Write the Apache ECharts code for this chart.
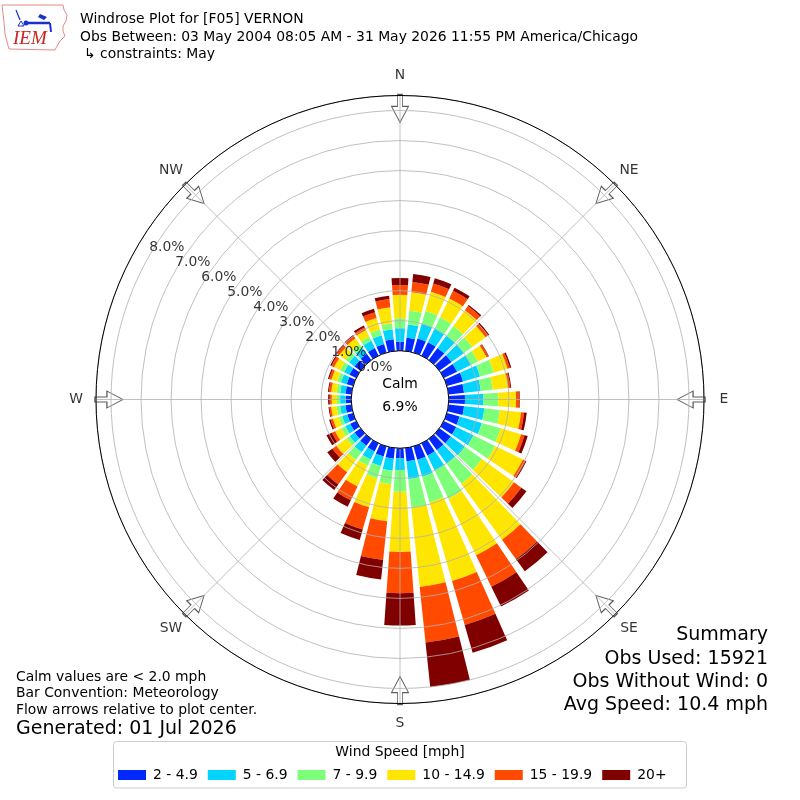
<!DOCTYPE html>
<html><head><meta charset="utf-8">
<script src="https://cdn.jsdelivr.net/npm/echarts@6/dist/echarts.min.js"></script>
<style>html,body{margin:0;padding:0;background:#fff}#c{width:800px;height:800px}</style>
</head><body><div id="c"></div>
<script>
// ---- data ----
const directions = ['0','10','20','30','40','50','60','70','80','90','100','110','120','130','140','150','160','170',
                    '180','190','200','210','220','230','240','250','260','270','280','290','300','310','320','330','340','350'];
const speedBins = ['2 - 4.9','5 - 6.9','7 - 9.9','10 - 14.9','15 - 19.9','20+'];
const speed2to5   = [0.30,0.44,0.49,0.50,0.50,0.50,0.49,0.56,0.52,0.54,0.52,0.44,0.46,0.47,0.46,0.45,0.46,0.44,0.33,0.36,0.35,0.30,0.28,0.25,0.22,0.20,0.20,0.18,0.20,0.22,0.25,0.25,0.26,0.28,0.30,0.39];
const speed5to7   = [0.45,0.45,0.51,0.50,0.50,0.50,0.51,0.59,0.56,0.61,0.68,0.77,0.64,0.58,0.56,0.55,0.59,0.60,0.39,0.40,0.33,0.30,0.27,0.20,0.18,0.18,0.18,0.19,0.18,0.20,0.20,0.22,0.24,0.27,0.30,0.34];
const speed7to10  = [0.33,0.46,0.44,0.42,0.40,0.35,0.26,0.47,0.40,0.50,0.52,0.65,0.80,0.70,0.83,1.05,0.89,0.96,0.73,0.45,0.43,0.23,0.31,0.13,0.15,0.12,0.12,0.11,0.12,0.13,0.15,0.15,0.15,0.15,0.20,0.19];
const speed10to15 = [0.78,0.62,0.67,0.70,0.65,0.55,0.32,0.48,0.52,0.59,0.71,0.71,1.03,1.32,2.30,2.10,2.72,2.65,2.00,1.24,1.00,0.77,0.51,0.41,0.23,0.20,0.18,0.17,0.18,0.20,0.22,0.26,0.25,0.25,0.40,0.54];
const speed15to20 = [0.33,0.34,0.28,0.28,0.17,0.10,0.07,0.08,0.07,0.11,0.10,0.12,0.10,0.30,0.80,1.16,1.53,1.86,1.38,1.30,0.77,0.51,0.50,0.17,0.12,0.08,0.06,0.07,0.08,0.08,0.10,0.09,0.09,0.10,0.20,0.28];
const speed20plus = [0.23,0.27,0.19,0.12,0.05,0.05,0.02,0.05,0.03,0.02,0.09,0.11,0.03,0.21,0.50,0.74,0.96,1.49,1.07,0.65,0.36,0.24,0.23,0.21,0.20,0.05,0.03,0.05,0.03,0.04,0.04,0.04,0.04,0.07,0.12,0.11];
const compassLabels = ['N','NE','E','SE','S','SW','W','NW'];
const compassAngles = [0,45,90,135,180,225,270,315];
const ringTicks = [0,1,2,3,4,5,6,7,8];
const calmPercent = '6.9%';
const summaryLines = ['Summary','Obs Used: 15921','Obs Without Wind: 0','Avg Speed: 10.4 mph'];
const noteLines = ['Calm values are < 2.0 mph','Bar Convention: Meteorology','Flow arrows relative to plot center.'];

// ---- styles ----
const FF = '"DejaVu Sans", sans-serif';
const binColors = ['#0028ff','#00d4ff','#7dff7a','#ffe600','#ff4a00','#800000'];
const binValues = [speed2to5, speed5to7, speed7to10, speed10to15, speed15to20, speed20plus];
const CENTER = [400, 399.5];
const RADIUS = [48.8, 304];
const RMAX = 8.5;

const chart = echarts.init(document.getElementById('c'), null, {renderer: 'canvas'});

const barSeries = speedBins.map((name, i) => ({
  type: 'bar', name: name, coordinateSystem: 'polar', polarIndex: 0,
  stack: 'rose', data: binValues[i], barCategoryGap: '20%',
  itemStyle: {color: binColors[i]}, z: 2, silent: true
}));

const arrowPath = 'path://M6,0 L11,0 L11,12 L17,12 L8.5,28 L0,12 L6,12 Z';

function txt(text, x, y, size, align, extra) {
  return Object.assign({
    type: 'text', z: 20,
    style: {text: text, x: x, y: y, font: size + 'px ' + FF, fill: '#000',
            textAlign: align || 'left', textVerticalAlign: 'middle',
            align: align || 'left', verticalAlign: 'middle'}
  }, extra || {});
}

const BLUE = '#1a2fd0';
const graphics = [
  // logo
  {type: 'polyline', z: 20, shape: {points: [[2,5],[63,5],[64,10],[67,15],[66,21],[63,26],[63,31],[65,36],[60,41],[57,46],[55,50],[9,49],[7,42],[5,34],[4,22],[2,5]]},
   style: {stroke: '#e58a8a', lineWidth: 1, fill: null}},
  {type: 'polyline', z: 20, shape: {points: [[16,10],[20,20]]}, style: {stroke: BLUE, lineWidth: 1.2}},
  {type: 'polygon', z: 20, shape: {points: [[18,26],[21,21],[24,26]]}, style: {stroke: BLUE, lineWidth: 1, fill: null}},
  {type: 'polyline', z: 20, shape: {points: [[24,23],[50,23]]}, style: {stroke: BLUE, lineWidth: 2.5}},
  {type: 'circle', z: 20, shape: {cx: 26, cy: 23, r: 2.5}, style: {fill: BLUE}},
  {type: 'polygon', z: 20, shape: {points: [[40,14],[47,17],[44,20],[38,17]]}, style: {fill: BLUE}},
  {type: 'polyline', z: 20, shape: {points: [[50,23],[51,32]]}, style: {stroke: BLUE, lineWidth: 2}},
  txt('IEM', 13, 38, 17, 'left', {style: {text: 'IEM', x: 13, y: 38.5, font: 'italic 19px "Liberation Serif", serif', fill: '#d02020', textAlign: 'left', textVerticalAlign: 'middle', align: 'left', verticalAlign: 'middle'}}),
  // title
  txt('Windrose Plot for [F05] VERNON', 80, 19, 13.9),
  txt('Obs Between: 03 May 2004 08:05 AM - 31 May 2026 11:55 PM America/Chicago', 80, 37, 13.9),
  txt('\u21b3 constraints: May', 84, 54, 13.9),
  // calm
  txt('Calm', 400, 384.5, 13.9, 'center'),
  txt(calmPercent, 400, 407.5, 13.9, 'center'),
  // notes
  txt(noteLines[0], 16, 677, 13.9),
  txt(noteLines[1], 16, 693.5, 13.9),
  txt(noteLines[2], 16, 710, 13.9),
  txt('Generated: 01 Jul 2026', 16, 729, 19),
  // summary
  txt(summaryLines[0], 768, 635, 19, 'right'),
  txt(summaryLines[1], 768, 659, 19, 'right'),
  txt(summaryLines[2], 768, 682, 19, 'right'),
  txt(summaryLines[3], 768, 705.5, 19, 'right'),
  // legend box
  {type: 'rect', z: 1, shape: {x: 113.5, y: 741.5, width: 573, height: 46.5, r: 3},
   style: {fill: '#fff', stroke: '#cccccc', lineWidth: 1}},
  txt('Wind Speed [mph]', 400, 752.5, 13.9, 'center')
];

const option = {
  animation: false,
  textStyle: {fontFamily: FF},
  polar: [
    {center: CENTER, radius: RADIUS},
    {center: CENTER, radius: RADIUS}
  ],
  angleAxis: [
    {polarIndex: 0, type: 'category', data: directions, startAngle: 95, clockwise: true,
     axisLine: {show: false}, axisTick: {show: false}, axisLabel: {show: false}, splitLine: {show: false}},
    {polarIndex: 1, type: 'value', min: 0, max: 360, interval: 45, startAngle: 90, clockwise: true, z: 11,
     axisLine: {show: true, lineStyle: {color: '#000', width: 1}}, axisTick: {show: false}, axisLabel: {show: false},
     splitLine: {show: true, lineStyle: {color: '#b0b0b0', width: 0.8}}}
  ],
  radiusAxis: [
    {polarIndex: 0, type: 'value', min: 0, max: RMAX,
     axisLine: {show: false}, axisTick: {show: false}, axisLabel: {show: false}, splitLine: {show: false}},
    {polarIndex: 1, type: 'value', min: 0, max: RMAX, interval: 1, z: 10,
     axisLine: {show: false}, axisTick: {show: false}, axisLabel: {show: false},
     splitLine: {show: true, lineStyle: {color: '#b0b0b0', width: 0.8}}}
  ],
  legend: {
    data: speedBins, left: 118, top: 768, itemWidth: 28, itemHeight: 10, itemGap: 10,
    icon: 'rect', selectedMode: false, padding: 0, z: 5,
    textStyle: {fontSize: 13.9, fontFamily: FF, color: '#000', padding: [0, 0, 0, 2]}
  },
  graphic: graphics,
  series: barSeries.concat([
    {type: 'scatter', coordinateSystem: 'polar', polarIndex: 1, silent: true, z: 3, clip: false,
     symbol: arrowPath, symbolSize: [17, 28],
     itemStyle: {color: '#ffffff', borderColor: '#333333', borderWidth: 1},
     data: compassAngles.map(a => ({value: [8.07, a], symbolRotate: -a}))},
    {type: 'scatter', coordinateSystem: 'polar', polarIndex: 1, silent: true, z: 12, clip: false,
     symbol: 'circle', symbolSize: 1, itemStyle: {color: 'rgba(0,0,0,0)'},
     label: {show: true, position: 'inside', formatter: '{b}', color: '#000', fontSize: 13.9, fontFamily: FF},
     data: compassAngles.map((a, i) => ({value: [9.16, a], name: compassLabels[i]}))},
    {type: 'scatter', coordinateSystem: 'polar', polarIndex: 1, silent: true, z: 12, clip: false,
     symbol: 'circle', symbolSize: 1, itemStyle: {color: 'rgba(0,0,0,0)'},
     label: {show: true, position: [0, 0], align: 'left', verticalAlign: 'bottom', formatter: '{b}',
             color: '#000', fontSize: 13.9, fontFamily: FF},
     data: ringTicks.map(t => ({value: [t, 300], name: t.toFixed(1) + '%'}))}
  ])
};
chart.setOption(option);
</script></body></html>
